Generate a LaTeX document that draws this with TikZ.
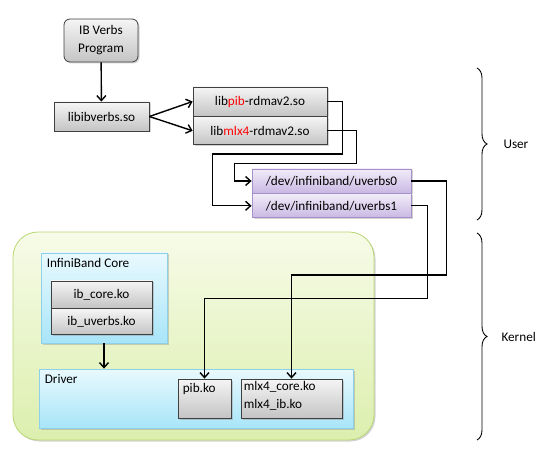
\documentclass[tikz,border=0pt]{standalone}
\usepackage{fontspec}
\setmainfont{Carlito}
\usetikzlibrary{arrows.meta,positioning,shadows,decorations.pathreplacing}
\definecolor{grtop}{HTML}{F5F5F5}
\definecolor{grbot}{HTML}{C4C4C4}
\definecolor{grline}{HTML}{404040}
\definecolor{putop}{HTML}{F1ECF8}
\definecolor{pubot}{HTML}{C9B8E3}
\definecolor{puline}{HTML}{A690CC}
\definecolor{bltop}{HTML}{E9F9FE}
\definecolor{blbot}{HTML}{A8E5F8}
\definecolor{blline}{HTML}{8ECFEA}
\definecolor{gntop}{HTML}{F7FBE8}
\definecolor{gnbot}{HTML}{DCEFAE}
\definecolor{gnline}{HTML}{B8D774}

\begin{document}
\begin{tikzpicture}[x=1pt,y=-1pt,font=\fontsize{13.2}{18}\selectfont,>={Straight Barb[length=5pt,width=9pt]}]

\tikzstyle{sh} = [drop shadow={shadow xshift=1.5pt,shadow yshift=-1.5pt,opacity=0.35}]
\tikzstyle{gr} = [rectangle, draw=grline, line width=0.8pt, top color=grtop, bottom color=grbot, inner sep=0pt, text centered, sh]
\tikzstyle{pu} = [rectangle, draw=puline, line width=0.8pt, top color=putop, bottom color=pubot, inner sep=0pt, text centered, sh]
\tikzstyle{bl} = [rectangle, draw=blline, line width=0.8pt, top color=bltop, bottom color=blbot, inner sep=0pt, sh]
\tikzstyle{boxcap} = [anchor=north west, inner sep=6pt, align=left]
\tikzstyle{conn} = [->, line width=1.4pt]
\tikzstyle{brc} = [decorate, decoration={brace, amplitude=10pt}, line width=0.9pt]

\useasboundingbox (0,0) rectangle (560,457);

\node (kern) [draw=gnline, line width=0.8pt, top color=gntop, bottom color=gnbot, rounded corners=25pt, minimum width=361, minimum height=208, sh] at (193.5,336) {};
\node (ibcore) [bl, minimum width=126, minimum height=90, label={[boxcap]north west:InfiniBand Core}] at (104,298) {};
\node (drv) [bl, minimum width=314, minimum height=59, label={[boxcap]north west:Driver}] at (196,398.5) {};

\node (prog) [gr, rounded corners=6pt, minimum width=74, minimum height=43, align=center] at (101,40.5) {IB Verbs\\Program};
\node (libibv) [gr, minimum width=95, minimum height=29] at (101.5,116.5) {libibverbs.so};
\node (libpib) [gr, minimum width=134, minimum height=29] at (260,101.5) {lib\textcolor{red}{pib}-rdmav2.so};
\node (libmlx) [gr, minimum width=134, minimum height=28, below=0pt of libpib] {lib\textcolor{red}{mlx4}-rdmav2.so};
\node (uverbs0) [pu, minimum width=159, minimum height=24] at (331.5,181) {/dev/infiniband/uverbs0};
\node (uverbs1) [pu, minimum width=159, minimum height=24, below=0pt of uverbs0] {/dev/infiniband/uverbs1};

\node (ibcoreko) [gr, minimum width=101, minimum height=27] at (101.5,294.5) {ib\_core.ko};
\node (ibuverbsko) [gr, minimum width=101, minimum height=26, below=0pt of ibcoreko] {ib\_uverbs.ko};
\node (pibko) [gr, minimum width=53, minimum height=39, label={[boxcap,inner sep=5pt]north west:pib.ko}] at (204.5,398.5) {};
\node (mlxko) [gr, minimum width=101, minimum height=39, label={[boxcap,inner sep=3pt]north west:mlx4\_core.ko\\mlx4\_ib.ko}] at (291.5,398.5) {};

\draw[conn] (prog) -- (libibv);
\draw[conn] (libibv.east) -- (libpib.west);
\draw[conn] (libibv.east) -- (libmlx.west);
\draw[conn] (libpib.east) -- ++(15,0) -- ++(0,52.5) -- ++(-130,0) |- (uverbs1.west);
\draw[conn] (libmlx.east) -- ++(29,0) -- ++(0,33) -- ++(-122,0) |- (uverbs0.west);
\draw[conn] (uverbs0.east) -- ++(35,0) -- ++(0,94) -| (mlxko.north);
\draw[conn] (uverbs1.east) -- ++(16,0) -- ++(0,93) -| (pibko.north);
\draw[conn] (ibcore.south) -- (ibcore.south |- drv.north);

\draw[brc] (477,68) -- (477,220);
\draw[brc] (477,233) -- (477,440);
\node (user) [anchor=west] at (500,144) {User};
\node (kernel) [anchor=west] at (498,336.5) {Kernel};

\end{tikzpicture}
\end{document}
